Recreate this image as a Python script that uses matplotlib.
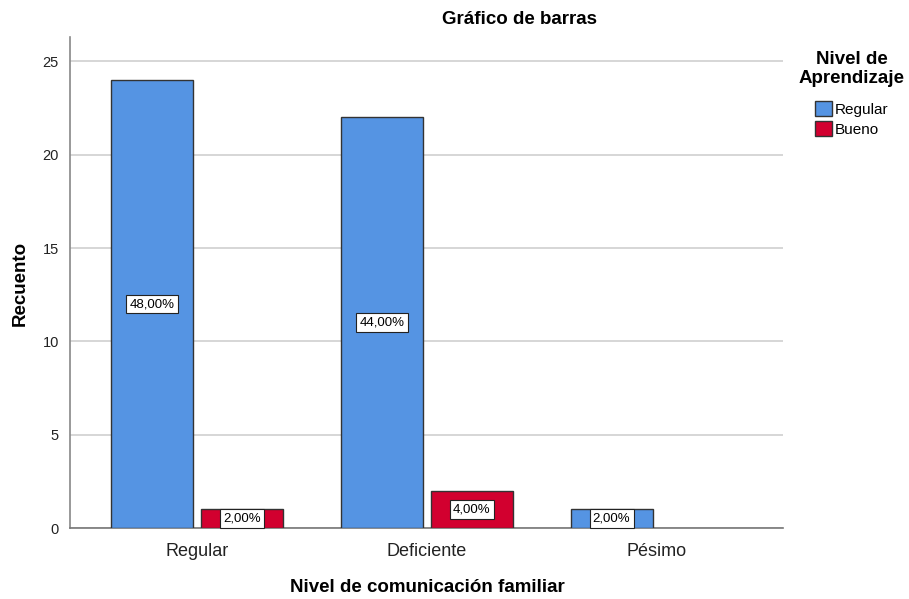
import numpy as np
from matplotlib import pyplot as plt
from matplotlib.patches import Patch

plt.rcParams['font.family'] = ['Liberation Sans', 'DejaVu Sans']

categorias = ['Regular', 'Deficiente', 'Pésimo']
regular = [24, 22, 1]
bueno = [1, 2, 0]
pct_regular = ['48,00%', '44,00%', '2,00%']
pct_bueno = ['2,00%', '4,00%', '']
yticks = [0, 5, 10, 15, 20, 25]

azul = '#5594E3'
rojo = '#D2002F'

fig = plt.figure(figsize=(9.09, 5.99), dpi=100)
ax = fig.add_axes([0.077, 0.1185, 0.784, 0.8195])

x = np.arange(len(categorias))
w = 0.357
off = 0.196

ax.bar(x - off, regular, w, color=azul, edgecolor='#333333', linewidth=1, zorder=3)
for i, v in enumerate(bueno):
    if v > 0:
        ax.bar(x[i] + off, v, w, color=rojo, edgecolor='#333333', linewidth=1, zorder=3)

box = dict(facecolor='white', edgecolor='#222222', boxstyle='square,pad=0.25', linewidth=0.8)
for i in range(len(categorias)):
    ax.text(x[i] - off, regular[i] / 2, pct_regular[i], ha='center', va='center', fontsize=9.5, bbox=box, zorder=4)
    if bueno[i] > 0:
        ax.text(x[i] + off, bueno[i] / 2, pct_bueno[i], ha='center', va='center', fontsize=9.5, bbox=box, zorder=4)

ax.set_xlim(-0.552, 2.548)
ax.set_ylim(0, 26.3)
ax.set_yticks(yticks)
ax.set_xticks(x)
ax.set_xticklabels(categorias, fontsize=13, color='#222222')
ax.tick_params(axis='y', labelsize=10.5, length=0, pad=8, colors='#222222')
ax.tick_params(axis='x', length=0, pad=11)
ax.yaxis.grid(True, color='#d0d0d0', linewidth=1.2, zorder=0)
ax.set_axisbelow(True)
for s in ['top', 'right']:
    ax.spines[s].set_visible(False)
ax.spines['left'].set_color('#888888')
ax.spines['bottom'].set_color('#777777')
ax.spines['left'].set_linewidth(1.2)
ax.spines['bottom'].set_linewidth(1.2)

fig.text(520 / 909, 1 - 20 / 599, 'Gráfico de barras', ha='center', va='center', fontsize=13.5, fontweight='bold')
fig.text(427 / 909, 1 - 588 / 599, 'Nivel de comunicación familiar', ha='center', va='center', fontsize=13.5, fontweight='bold')
fig.text(20 / 909, 1 - 283 / 599, 'Recuento', ha='center', va='center', rotation=90, fontsize=13.5, fontweight='bold')

handles = [Patch(facecolor=azul, edgecolor='#333333'), Patch(facecolor=rojo, edgecolor='#333333')]
leg = fig.legend(handles, ['Regular', 'Bueno'], title='Nivel de\nAprendizaje', loc='upper left',
                 bbox_to_anchor=(788 / 909, 1 - 40 / 599), frameon=False, fontsize=11,
                 handlelength=1.1, handleheight=1.1, handletextpad=0.2, labelspacing=0.3,
                 borderpad=0.2)
leg.get_title().set_fontweight('bold')
leg.get_title().set_fontsize(13.5)
leg.get_title().set_multialignment('center')
leg._legend_box.align = 'center'
leg._legend_box.sep = 10

fig.savefig('out.png', dpi=100)
